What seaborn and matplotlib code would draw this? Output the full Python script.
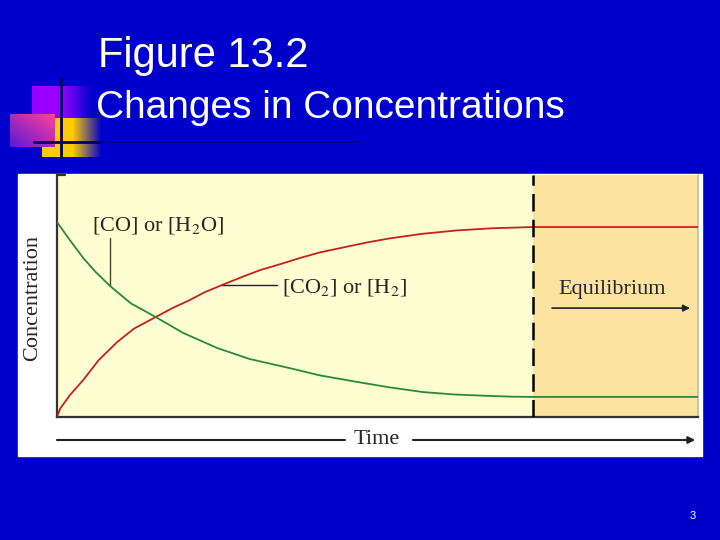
import numpy as np
import matplotlib.pyplot as plt
import seaborn as sns

sns.set_style('white')
plt.rcParams['font.family'] = ['Liberation Serif', 'DejaVu Serif']
plt.rcParams['mathtext.fontset'] = 'stix'

# values (time in arbitrary units 0-10, concentration 0-1)
red_time = [0, 0.05, 0.2, 0.41, 0.65, 0.94, 1.2, 1.54, 1.8, 2.07, 2.3, 2.57, 2.9, 3.17, 3.5,
            3.79, 4.1, 4.49, 4.85, 5.19, 5.7, 6.24, 6.8, 7.43, 10]
red_conc = [0, 0.035, 0.09, 0.153, 0.235, 0.31, 0.365, 0.413, 0.45, 0.483, 0.515, 0.545, 0.58, 0.607, 0.633,
            0.657, 0.68, 0.702, 0.722, 0.738, 0.757, 0.771, 0.780, 0.785, 0.785]

green_time = [0, 0.2, 0.41, 0.6, 0.83, 1.15, 1.54, 1.97, 2.5, 3.0, 3.63, 4.1, 4.68, 5.2,
              5.71, 6.2, 6.76, 7.1, 7.43, 10]
green_conc = [0.806, 0.731, 0.657, 0.6, 0.541, 0.47, 0.413, 0.347, 0.285, 0.24, 0.202, 0.172, 0.145, 0.122,
              0.103, 0.093, 0.087, 0.084, 0.083, 0.083]

t_equilibrium = 7.43
t_max = 10

title_1 = 'Figure 13.2'
title_2 = 'Changes in Concentrations'
label_reactant = '[CO] or [H$_2$O]'
label_product = '[CO$_2$] or [H$_2$]'

BLUE = '#0000cc'

fig = plt.figure(figsize=(7.2, 5.4), dpi=100, facecolor=BLUE)

# background layer in pixel coordinates: white panel, template blocks, titles
bg = fig.add_axes([0, 0, 1, 1], zorder=0)
bg.set_xlim(0, 720)
bg.set_ylim(540, 0)
bg.axis('off')
bg.patch.set_alpha(0)

bg.add_patch(plt.Rectangle((18, 174), 684, 282, color='white', zorder=1))

def grad(c0, c1, w, h, diag=False):
    # simple colour ramp from c0 to c1 (left->right, or bottom-left->top-right)
    xx = np.linspace(0, 1, w)[None, :]
    yy = np.linspace(0, 1, h)[:, None]
    s = (xx + (1 - yy)) / 2 if diag else np.repeat(xx, h, axis=0)
    s = np.clip(s, 0, 1)[..., None]
    return np.array(c0)[None, None, :] * (1 - s) + np.array(c1)[None, None, :] * s

pur_ramp = np.concatenate([np.tile([[0.6, 0.0, 1.0]], (30, 1)), grad([0.6, 0.0, 1.0], [0.0, 0.0, 0.8], 30, 1)[0]])
bg.imshow(np.repeat(pur_ramp[None, :, :], 10, axis=0), extent=(32, 92, 118, 86), aspect='auto', zorder=2)
yel_ramp = np.concatenate([np.tile([[1.0, 0.8, 0.0]], (30, 1)), grad([1.0, 0.8, 0.0], [0.0, 0.0, 0.8], 30, 1)[0]])
bg.imshow(np.repeat(yel_ramp[None, :, :], 10, axis=0), extent=(42, 102, 157, 118), aspect='auto', zorder=3)
bg.imshow(grad([0.35, 0.1, 0.85], [1.0, 0.25, 0.6], 40, 30, diag=True), extent=(10, 55, 147, 114), aspect='auto', zorder=4)
bg.plot([61, 61], [78, 158], color='#000066', lw=2, zorder=5)
bg.plot([34, 100], [142, 142], color='#000066', lw=2, zorder=5)
bg.plot([100, 360], [142, 142], color='#0000a0', lw=1.5, zorder=5)

bg.text(98, 67, title_1, color='white', fontsize=30, family='Liberation Sans', va='baseline', zorder=6)
bg.text(96, 118, title_2, color='white', fontsize=28, family='Liberation Sans', va='baseline', zorder=6)
bg.text(693, 516, '3', color='white', fontsize=8, family='Liberation Sans', ha='center', va='center', zorder=6)

# the chart itself
ax = fig.add_axes([57 / 720, (540 - 417) / 540, 641 / 720, 242 / 540], zorder=2)
ax.set_facecolor('#fffdd2')
ax.axvspan(t_equilibrium, t_max, color='#fde3a0', lw=0, zorder=0)

sns.lineplot(x=red_time, y=red_conc, ax=ax, color='#c8201e', lw=1.3, zorder=3)
sns.lineplot(x=green_time, y=green_conc, ax=ax, color='#2a8a3a', lw=1.3, zorder=3)
ax.axvline(t_equilibrium, color='black', lw=1.8, dashes=(7, 3.3), zorder=4)

ax.set_xlim(0, t_max)
ax.set_ylim(0, 1)
ax.set_xticks([])
ax.set_yticks([])
ax.set_xlabel('')
ax.set_ylabel('')
for s in ['left', 'bottom']:
    ax.spines[s].set_color('#333333')
    ax.spines[s].set_linewidth(1.6)
ax.spines['top'].set_visible(False)
ax.spines['right'].set_color('#bbbbbb')
ax.spines['right'].set_linewidth(1.2)
ax.plot([0, 0.12], [1, 1], color='#333333', lw=1.6, clip_on=False)

# labels with leader lines
ax.plot([0.83, 0.83], [0.541, 0.74], color='#444433', lw=1)
ax.text(1.58, 0.793, label_reactant, ha='center', va='center', fontsize=16)
ax.plot([2.57, 3.43], [0.545, 0.545], color='#222222', lw=1)
ax.text(3.51, 0.537, label_product, ha='left', va='center', fontsize=16)

ax.text(8.66, 0.525, 'Equilibrium', ha='center', va='center', fontsize=16)
ax.annotate('', xy=(9.92, 0.45), xytext=(7.68, 0.45),
            arrowprops=dict(arrowstyle='-|>', color='#222222', lw=1.2, mutation_scale=10))

# time axis arrow under the plot
ax.plot([0, 4.49], [-0.095, -0.095], color='#222222', lw=1.5, clip_on=False)
ax.annotate('', xy=(10, -0.095), xytext=(5.51, -0.095), annotation_clip=False,
            arrowprops=dict(arrowstyle='-|>', color='#222222', lw=1.5, mutation_scale=10))
ax.text(4.98, -0.095, 'Time', ha='center', va='center', fontsize=16)

fig.text(33 / 720, 1 - 298 / 540, 'Concentration', rotation=90, ha='center', va='center', fontsize=16, zorder=5)

fig.savefig('out.png', dpi=100, facecolor=BLUE)
